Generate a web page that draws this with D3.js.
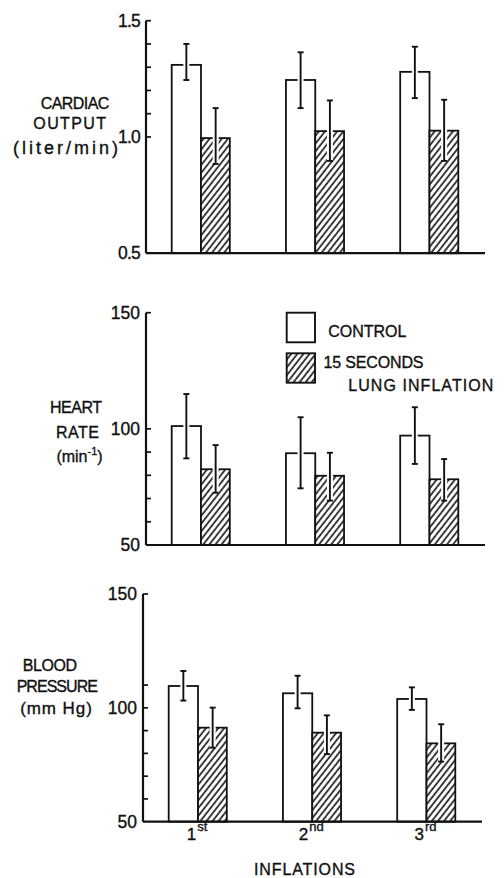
<!DOCTYPE html>
<html>
<head>
<meta charset="utf-8">
<script src="https://cdn.jsdelivr.net/npm/d3@7"></script>
<style>
  html, body { margin: 0; padding: 0; background: #fff; }
  svg { display: block; }
  text { font-family: "Liberation Sans", Arial, sans-serif; fill: #111; stroke: #111; stroke-width: 0.35; }
</style>
</head>
<body>
<svg id="chart" width="504" height="878"></svg>
<script>
// ---------- DATA ----------
const inflations = ["1st", "2nd", "3rd"];
const inflationNum = ["1", "2", "3"];
const inflationSuffix = ["st", "nd", "rd"];
const seriesNames = ["CONTROL", "15 SECONDS LUNG INFLATION"];

// Cardiac output (liter/min)
const coControl      = [1.31, 1.245, 1.28];
const coControlLo    = [1.245, 1.124, 1.167];
const coControlHi    = [1.40, 1.364, 1.388];
const coInflation    = [0.995, 1.025, 1.027];
const coInflationLo  = [0.884, 0.897, 0.897];
const coInflationHi  = [1.124, 1.157, 1.160];
const coTicks        = [1.5, 1.4, 1.3, 1.2, 1.1, 1.0, 0.5];
const coTickLabels   = ["1.5", "1.0", "0.5"];

// Heart rate (min-1)
const hrControl      = [101.2, 89.5, 97.1];
const hrControlLo    = [87.3, 74.4, 84.9];
const hrControlHi    = [115, 105, 109.3];
const hrInflation    = [82.6, 79.8, 78.3];
const hrInflationLo  = [72.5, 69.1, 69.1];
const hrInflationHi  = [93, 89.7, 87];
const hrTicks        = [150, 100, 90, 80, 70, 60, 50];
const hrTickLabels   = ["150", "100", "50"];

// Blood pressure (mm Hg)
const bpControl      = [109.6, 106.4, 103.9];
const bpControlLo    = [103.2, 99.8, 99.1];
const bpControlHi    = [116.2, 114.1, 109.0];
const bpInflation    = [91.3, 89.1, 84.4];
const bpInflationLo  = [82.5, 79.7, 76.4];
const bpInflationHi  = [100.1, 96.7, 92.8];
const bpTicks        = [150, 110, 100, 90, 80, 70, 60, 50];
const bpTickLabels   = ["150", "100", "50"];

// ---------- DRAWING ----------
const svg = d3.select("#chart");
const defs = svg.append("defs");
const pat = defs.append("pattern")
  .attr("id", "hatch")
  .attr("patternUnits", "userSpaceOnUse")
  .attr("width", 4.8).attr("height", 10)
  .attr("patternTransform", "rotate(38)");
pat.append("rect").attr("width", 4.8).attr("height", 10).attr("fill", "#fff");
pat.append("line").attr("x1", 1).attr("x2", 1).attr("y1", 0).attr("y2", 10)
  .attr("stroke", "#111").attr("stroke-width", 1.6);

const panels = [
  { x0: 146, xEnd: 485, yRange: [253.2, 20.7], domain: [0.5, 1.5],
    ticks: coTicks, labels: coTickLabels,
    c: coControl, cLo: coControlLo, cHi: coControlHi,
    h: coInflation, hLo: coInflationLo, hHi: coInflationHi,
    title: [
      { t: "CARDIAC", x: 75, y: 109.3, w: 68.6 },
      { t: "OUTPUT", x: 69.7, y: 129.3, w: 72.7 },
      { t: "(liter/min)", x: 65.5, y: 154, w: 105, fs: 18 }
    ] },
  { x0: 146, xEnd: 485, yRange: [545, 312.7], domain: [50, 150],
    ticks: hrTicks, labels: hrTickLabels,
    c: hrControl, cLo: hrControlLo, cHi: hrControlHi,
    h: hrInflation, hLo: hrInflationLo, hHi: hrInflationHi,
    title: [
      { t: "HEART", x: 76, y: 413.3, w: 52 },
      { t: "RATE", x: 77.5, y: 438.3, w: 43 },
      { t: "(min", sup: "-1", post: ")", x: 79.5, y: 461.7 }
    ] },
  { x0: 143, xEnd: 482, yRange: [821.7, 594], domain: [50, 150],
    ticks: bpTicks, labels: bpTickLabels,
    c: bpControl, cLo: bpControlLo, cHi: bpControlHi,
    h: bpInflation, hLo: bpInflationLo, hHi: bpInflationHi,
    title: [
      { t: "BLOOD", x: 50, y: 670.7, w: 54.3 },
      { t: "PRESSURE", x: 57.3, y: 692.3, w: 81.3 },
      { t: "(mm  Hg)", x: 56, y: 714, w: 71.7, fs: 17 }
    ] }
];

const barW = 29.3;

panels.forEach((p, pi) => {
  const g = svg.append("g");
  const y = d3.scaleLinear().domain(p.domain).range(p.yRange);
  const x = d3.scalePoint().domain(inflations).range([p.x0 + 55, p.x0 + 283.5]);
  const base = y(p.domain[0]);

  // bars
  inflations.forEach((cat, i) => {
    const cx = x(cat);
    g.append("rect")
      .attr("x", cx - barW).attr("y", y(p.c[i]))
      .attr("width", barW).attr("height", base - y(p.c[i]))
      .attr("fill", "#fff").attr("stroke", "#111").attr("stroke-width", 1.8);
    g.append("rect")
      .attr("x", cx).attr("y", y(p.h[i]))
      .attr("width", barW - 0.5).attr("height", base - y(p.h[i]))
      .attr("fill", "url(#hatch)").attr("stroke", "#111").attr("stroke-width", 1.8);
  });

  // error bars
  const errs = [];
  inflations.forEach((cat, i) => {
    const cx = x(cat);
    errs.push({ x: cx - barW / 2, lo: p.cLo[i], hi: p.cHi[i] });
    errs.push({ x: cx + barW / 2, lo: p.hLo[i], hi: p.hHi[i] });
  });
  errs.forEach(e => {
    g.append("line").attr("x1", e.x).attr("x2", e.x)
      .attr("y1", y(e.hi)).attr("y2", y(e.lo))
      .attr("stroke", "#fff").attr("stroke-width", 6);
  });
  errs.forEach(e => {
    g.append("line").attr("x1", e.x).attr("x2", e.x)
      .attr("y1", y(e.hi)).attr("y2", y(e.lo))
      .attr("stroke", "#111").attr("stroke-width", 1.9);
    [e.hi, e.lo].forEach(v => {
      g.append("line").attr("x1", e.x - 3).attr("x2", e.x + 3)
        .attr("y1", y(v)).attr("y2", y(v))
        .attr("stroke", "#111").attr("stroke-width", 1.9);
    });
  });

  // axes
  g.append("line").attr("x1", p.x0).attr("x2", p.x0)
    .attr("y1", y(p.domain[1])).attr("y2", base)
    .attr("stroke", "#111").attr("stroke-width", 2.2);
  g.append("line").attr("x1", p.x0).attr("x2", p.xEnd)
    .attr("y1", base).attr("y2", base)
    .attr("stroke", "#111").attr("stroke-width", 2.2);
  p.ticks.forEach(t => {
    if (t === p.domain[0]) return;
    g.append("line").attr("x1", p.x0).attr("x2", p.x0 + 5)
      .attr("y1", y(t)).attr("y2", y(t))
      .attr("stroke", "#111").attr("stroke-width", 1.7);
  });
  p.labels.forEach(l => {
    g.append("text")
      .attr("x", p.x0 - 6).attr("y", y(+l) + 6)
      .attr("text-anchor", "end")
      .attr("font-size", 17.5)
      .attr("letter-spacing", pi === 0 ? -0.8 : 0)
      .text(l);
  });

  // y titles
  p.title.forEach(tt => {
    const t = g.append("text").attr("x", tt.x).attr("y", tt.y)
      .attr("text-anchor", "middle").attr("font-size", tt.fs || 16);
    if (tt.sup) {
      t.append("tspan").text(tt.t);
      t.append("tspan").attr("font-size", 11).attr("dy", -7).text(tt.sup);
      t.append("tspan").attr("dy", 7).text(tt.post);
    } else {
      t.text(tt.t).attr("textLength", tt.w).attr("lengthAdjust", "spacing");
    }
  });

  // x labels in bottom panel
  if (pi === 2) {
    inflations.forEach((cat, i) => {
      const t = g.append("text").attr("x", x(cat) - 1).attr("y", base + 18)
        .attr("text-anchor", "middle").attr("font-size", 17);
      t.append("tspan").text(inflationNum[i]);
      t.append("tspan").attr("font-size", 13).attr("dy", -9).attr("dx", 1).text(inflationSuffix[i]);
    });
    g.append("text").attr("x", 304.5).attr("y", 875)
      .attr("text-anchor", "middle").attr("font-size", 16)
      .attr("textLength", 101).attr("lengthAdjust", "spacing")
      .text("INFLATIONS");
  }

  // legend in middle panel
  if (pi === 1) {
    const lg = g.append("g");
    lg.append("rect").attr("x", 286.7).attr("y", 312.7).attr("width", 28.3).attr("height", 29.6)
      .attr("fill", "#fff").attr("stroke", "#111").attr("stroke-width", 1.9);
    lg.append("rect").attr("x", 286.7).attr("y", 353.3).attr("width", 28.3).attr("height", 29.4)
      .attr("fill", "url(#hatch)").attr("stroke", "#111").attr("stroke-width", 1.9);
    lg.append("text").attr("x", 328.3).attr("y", 336.7).attr("font-size", 16)
      .attr("textLength", 78).attr("lengthAdjust", "spacing").text(seriesNames[0]);
    lg.append("text").attr("x", 323.5).attr("y", 368.3).attr("font-size", 16)
      .attr("textLength", 100).attr("lengthAdjust", "spacing").text("15 SECONDS");
    lg.append("text").attr("x", 348.3).attr("y", 390.7).attr("font-size", 16)
      .attr("textLength", 145).attr("lengthAdjust", "spacing").text("LUNG INFLATION");
  }
});
</script>
</body>
</html>
